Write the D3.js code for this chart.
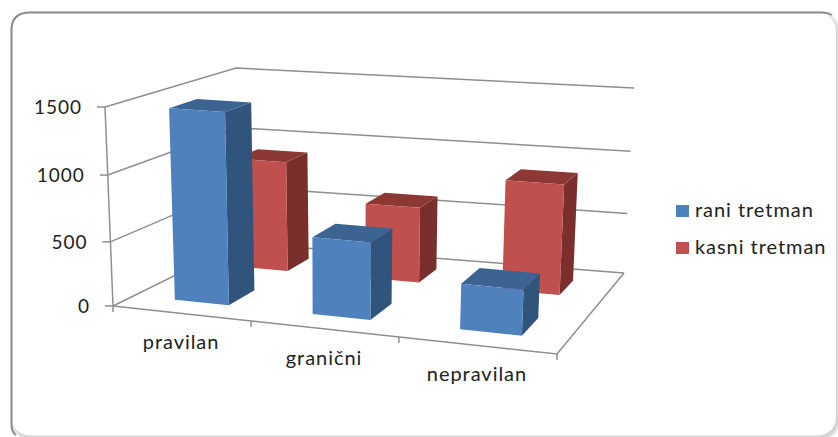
<!DOCTYPE html>
<html>
<head>
<meta charset="utf-8">
<script src="https://cdn.jsdelivr.net/npm/d3@7"></script>
<style>
html,body{margin:0;padding:0;background:#fff;overflow:hidden}
text{font-family:Lato,"Noto Sans",sans-serif;fill:#222;letter-spacing:.95px}
</style>
</head>
<body>
<svg id="chart" width="838" height="437"></svg>
<script>
// Values per outcome group
const categories = ["pravilan", "granični", "nepravilan"];
const seriesNames = ["rani tretman", "kasni tretman"];
const raniTretman = [1465, 590, 345];
const kasniTretman = [895, 610, 875];
const valueTicks = [0, 500, 1000, 1500];

const frontColors = ["#4f81bd", "#c0504d"];
const sideColors = ["#30547c", "#7a2f2d"];
const topColors = ["#3c6492", "#8c3936"];
const axisColor = "#8f8f8f";

const svg = d3.select("#chart");

// Chart-area border: firm on the left and top, faint shadow on the lower right
const defs = svg.append("defs");
const shadow = defs.append("filter").attr("id", "soft").attr("x", "-5%").attr("y", "-5%").attr("width", "110%").attr("height", "110%");
shadow.append("feGaussianBlur").attr("stdDeviation", 1.5);
svg.append("rect").attr("x", 12).attr("y", 13).attr("width", 827).attr("height", 426).attr("rx", 18)
  .attr("fill", "#d2d2d2").attr("filter", "url(#soft)");
svg.append("rect").attr("x", 11.5).attr("y", 12.5).attr("width", 824.5).attr("height", 423).attr("rx", 18)
  .attr("fill", "#fff");
svg.append("path").attr("fill", "none").attr("stroke", "#8a8a8a").attr("stroke-width", 2)
  .attr("d", "M16,435 Q11.5,432 11.5,424 L11.5,30 Q11.5,12.5 30,12.5 L822,12.5 Q828,12.5 832,15");

// Corners of the 3-D box: floor, then the plane through the 1500 level
const floor = {a: [113, 306], b: [557, 354], c: [624, 273], d: [241, 243]};
const roof = {a: [105, 107], b: [566, 141], c: [634, 88], d: [236, 68]};

const bilerp = (q, u, v) => [0, 1].map(k =>
  (1 - v) * ((1 - u) * q.a[k] + u * q.b[k]) + v * ((1 - u) * q.d[k] + u * q.c[k]));

// Foreshortening along the width and the depth of the box
const widthScale = d3.scaleLinear().domain([0, 1 / 3, 2 / 3, 1]).range([0, 0.311, 0.644, 1]);
const depthScale = d3.scaleLinear().domain([0, 0.35, 0.65, 1]).range([0, 0.39, 0.68, 1]);

function project(u, v, w) {
  const a = bilerp(floor, widthScale(u), depthScale(v));
  const b = bilerp(roof, widthScale(u), depthScale(v));
  return [a[0] + (b[0] - a[0]) * w, a[1] + (b[1] - a[1]) * w];
}

const xBand = d3.scaleBand().domain(categories).range([0, 1]).paddingInner(0.6).paddingOuter(0.3);
const depthBand = d3.scaleBand().domain(seriesNames).range([0, 1]).paddingInner(0.6).paddingOuter(0.3);
// Height also foreshortens a little towards the floor
const yScale = d3.scaleLinear().domain(valueTicks).range([0, 0.322, 0.658, 1]);
const line = d3.line();

// Walls and floor
const grid = svg.append("g").attr("fill", "none").attr("stroke", axisColor).attr("stroke-width", 1.5);
valueTicks.forEach(t => {
  const w = yScale(t);
  grid.append("path").attr("d", line([project(0, 0, w), project(0, 1, w), project(1, 1, w)]));
  const p = project(0, 0, w);
  grid.append("path").attr("d", line([[p[0] - 8, p[1]], p]));
});
grid.append("path").attr("d", line([project(0, 0, 0), project(0, 0, 1)]));
grid.append("path").attr("d", line([project(0, 0, 0), project(1, 0, 0), project(1, 1, 0)]));
d3.range(0, 4).forEach(i => {
  const p = project(i / 3, 0, 0);
  grid.append("path").attr("d", line([p, [p[0], p[1] + 6]]));
});

// Value labels
svg.append("g").selectAll("text").data(valueTicks).join("text")
  .attr("x", t => project(0, 0, yScale(t))[0] - 23)
  .attr("y", t => project(0, 0, yScale(t))[1] + 7)
  .attr("text-anchor", "end").attr("font-size", 19).attr("letter-spacing", 0.5).text(d => d);

// Columns, back row first so the front row overlaps it
const rows = [kasniTretman, raniTretman];
rows.forEach(values => {
  const s = values === raniTretman ? 0 : 1;
  const name = seriesNames[s];
  const v0 = depthBand(name), v1 = v0 + depthBand.bandwidth();
  const g = svg.append("g");
  categories.forEach((c, i) => {
    const u0 = xBand(c), u1 = u0 + xBand.bandwidth(), w = yScale(values[i]);
    g.append("path").attr("fill", sideColors[s])
      .attr("d", line([project(u1, v0, 0), project(u1, v1, 0), project(u1, v1, w), project(u1, v0, w)]) + "Z");
    g.append("path").attr("fill", topColors[s])
      .attr("d", line([project(u0, v0, w), project(u1, v0, w), project(u1, v1, w), project(u0, v1, w)]) + "Z");
    g.append("path").attr("fill", frontColors[s])
      .attr("d", line([project(u0, v0, 0), project(u1, v0, 0), project(u1, v0, w), project(u0, v0, w)]) + "Z");
  });
});

// Category labels below the front edge
svg.append("g").selectAll("text").data(categories).join("text")
  .attr("x", c => project(xBand(c) + xBand.bandwidth() / 2, 0, 0)[0] - 1)
  .attr("y", c => project(xBand(c) + xBand.bandwidth() / 2, 0, 0)[1] + 36)
  .attr("text-anchor", "middle").attr("font-size", 20).text(d => d);

// Legend
const legend = svg.append("g").selectAll("g").data(seriesNames).join("g")
  .attr("transform", (d, i) => `translate(676,${205 + i * 37})`);
legend.append("rect").attr("width", 13).attr("height", 12).attr("fill", (d, i) => frontColors[i]);
legend.append("text").attr("x", 19).attr("y", 12).attr("font-size", 20).text(d => d);
</script>
</body>
</html>
